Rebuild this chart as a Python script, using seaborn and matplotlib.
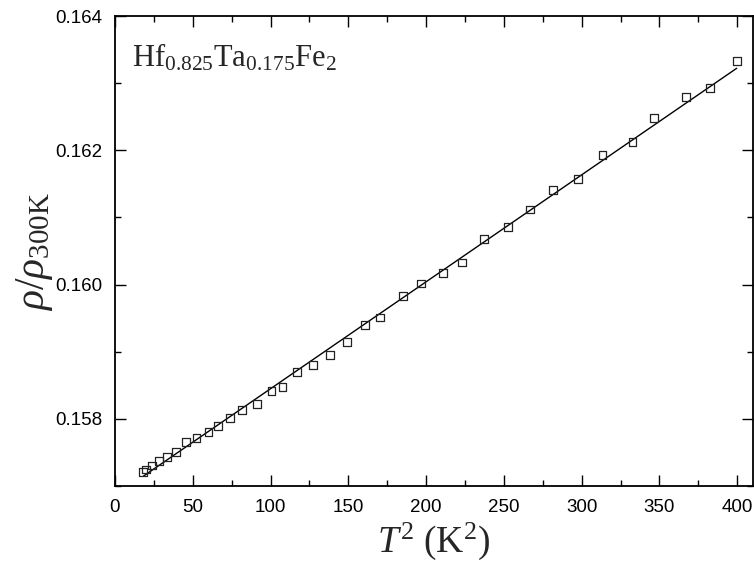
import matplotlib
matplotlib.use('Agg')
import matplotlib.pyplot as plt
from matplotlib.ticker import MultipleLocator, FormatStrFormatter
import seaborn as sns
import pandas as pd

# Dati: T^2 (K^2) e rho/rho_300K
t2 = [18.0, 20.0, 23.6, 28.3, 33.7, 39.3, 45.7, 52.4, 60.1, 66.5, 74.0, 81.6,
      91.2, 100.6, 107.7, 117.2, 127.5, 138.0, 149.2, 160.8, 170.4, 185.3,
      197.0, 211.0, 223.0, 237.2, 252.9, 266.8, 281.6, 297.9, 313.4, 332.7,
      346.6, 367.0, 382.7, 399.7]
rho_ratio = [0.157208, 0.157245, 0.157305, 0.157369, 0.157428, 0.157503,
             0.157657, 0.157721, 0.157806, 0.157890, 0.158015, 0.158128,
             0.158223, 0.158416, 0.158476, 0.158693, 0.158803, 0.158952,
             0.159145, 0.159392, 0.159511, 0.159834, 0.160017, 0.160176,
             0.160330, 0.160678, 0.160861, 0.161118, 0.161407, 0.161570,
             0.161927, 0.162125, 0.162487, 0.162799, 0.162924, 0.163330]

# Retta di fit (estremi)
fit_t2 = [18.2, 399.7]
fit_rho = [0.157146, 0.163222]

df = pd.DataFrame({'t2': t2, 'rho': rho_ratio})
df_fit = pd.DataFrame({'t2': fit_t2, 'rho': fit_rho})

sns.set_theme(style='ticks')
plt.rcParams['font.family'] = ['Liberation Sans', 'DejaVu Sans']
plt.rcParams['mathtext.fontset'] = 'custom'
plt.rcParams['mathtext.rm'] = 'Liberation Serif'
plt.rcParams['mathtext.it'] = 'Liberation Serif:italic'
plt.rcParams['mathtext.bf'] = 'Liberation Serif:bold'

fig = plt.figure(figsize=(7.54, 5.73), dpi=100)
ax = fig.add_axes([0.1525, 0.1518, 0.8458, 0.8202])

sns.lineplot(data=df_fit, x='t2', y='rho', color='black', linewidth=1.0, ax=ax)
sns.scatterplot(data=df, x='t2', y='rho', marker='s', s=32, facecolor='none',
                edgecolor='#222222', linewidth=0.9, ax=ax, zorder=3)

ax.set_xlim(0, 410)
ax.set_ylim(0.157, 0.164)
ax.xaxis.set_major_locator(MultipleLocator(50))
ax.xaxis.set_minor_locator(MultipleLocator(25))
ax.yaxis.set_major_locator(MultipleLocator(0.002))
ax.yaxis.set_minor_locator(MultipleLocator(0.001))
ax.yaxis.set_major_formatter(FormatStrFormatter('%.3f'))

ax.tick_params(which='both', direction='in', top=True, right=True,
               labelsize=13.5, width=1.0, colors='black')
ax.tick_params(which='major', length=8, pad=9)
ax.tick_params(which='minor', length=4.5)
for s in ax.spines.values():
    s.set_linewidth(1.3)
    s.set_color('black')

ax.set_xlabel(r'$T^{2}\ \mathrm{(K}^{2}\mathrm{)}$', fontsize=27, labelpad=4)
ax.set_ylabel(r'$\rho/\rho_{\mathrm{300K}}$', fontsize=30, labelpad=0)

ax.text(0.027, 0.945, r'$\mathrm{Hf}_{0.825}\mathrm{Ta}_{0.175}\mathrm{Fe}_{2}$',
        transform=ax.transAxes, fontsize=22, va='top', ha='left')

fig.savefig('out.png', dpi=100)
